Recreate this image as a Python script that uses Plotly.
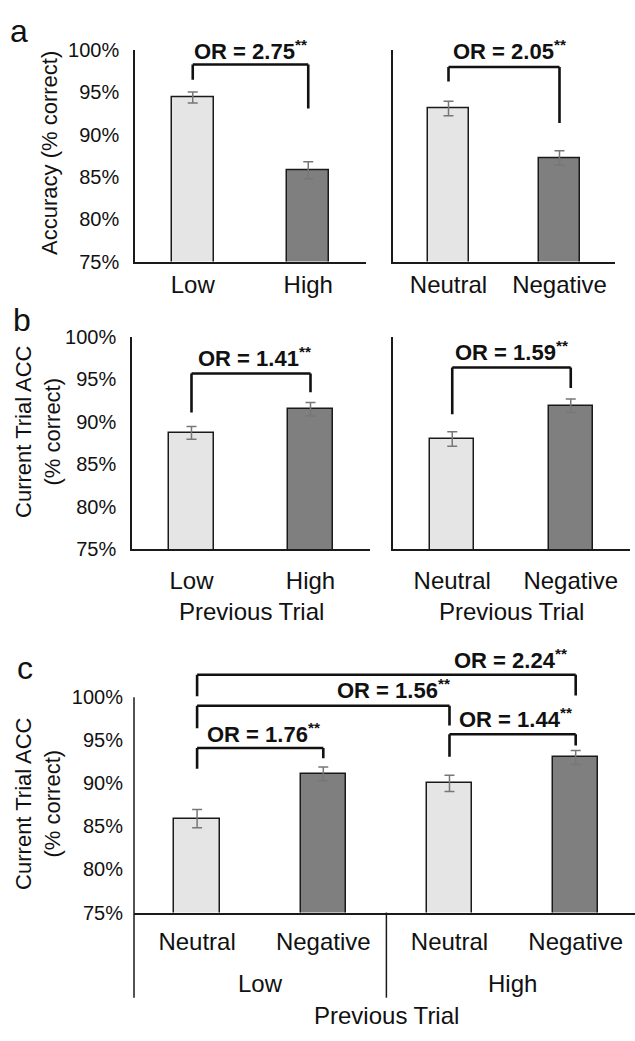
import plotly.graph_objects as go

# ---------------- data ----------------
load_cats = ["Low", "High"]
emo_cats = ["Neutral", "Negative"]

acc_load = [94.4, 85.8]
acc_load_err = [0.65, 1.0]
acc_emo = [93.1, 87.25]
acc_emo_err = [0.85, 0.85]

prev_load = [88.7, 91.5]
prev_load_err = [0.75, 0.8]
prev_emo = [88.0, 91.9]
prev_emo_err = [0.85, 0.8]

combo_cats = ["Neutral", "Negative", "Neutral", "Negative"]
combo_groups = ["Low", "High"]
prev_combo = [85.9, 91.1, 90.0, 93.0]
prev_combo_err = [1.05, 0.8, 0.95, 0.8]

ytick_vals = [75, 80, 85, 90, 95, 100]
ytick_text = ["75%", "80%", "85%", "90%", "95%", "100%"]

# odds-ratio labels for brackets
or_a = ["2.75", "2.05"]
or_b = ["1.41", "1.59"]
or_c = ["2.24", "1.56", "1.44", "1.76"]

# ---------------- layout helpers ----------------
W, H = 635, 1041
FONT = "Liberation Sans, Arial, Helvetica, sans-serif"
LIGHT = "#e5e5e5"
DARK = "#7f7f7f"
EDGE = "#1a1a1a"
ERRC = "#777777"


def fx(px):
    return px / W


def fy(py):
    return 1 - py / H


fig = go.Figure()

# panel geometry (pixels): x-domain, y-domain(bottom, top)
panels = [
    dict(x=(135, 366), y=(256, 40), yr=[75, 100], xr=[-0.5, 1.5], lab=True, so=1),
    dict(x=(393, 615), y=(256, 40), yr=[75, 100], xr=[-0.5, 1.5], lab=False, so=1),
    dict(x=(132, 370), y=(550, 333), yr=[75, 100], xr=[-0.5, 1.5], lab=True, so=9),
    dict(x=(393, 630), y=(550, 333), yr=[75, 100], xr=[-0.5, 1.5], lab=False, so=9),
    dict(x=(134, 635), y=(921, 657), yr=[75, 105], xr=[-0.5, 3.47], lab=True, so=7),
]

series = [
    (load_cats, acc_load, acc_load_err, [LIGHT, DARK], 0.365),
    (emo_cats, acc_emo, acc_emo_err, [LIGHT, DARK], 0.37),
    (load_cats, prev_load, prev_load_err, [LIGHT, DARK], 0.37),
    (emo_cats, prev_emo, prev_emo_err, [LIGHT, DARK], 0.37),
    (combo_cats, prev_combo, prev_combo_err, [LIGHT, DARK, LIGHT, DARK], 0.36),
]

layout = {}
for i, (p, s) in enumerate(zip(panels, series)):
    n = i + 1
    cats, vals, errs, cols, bw = s
    xs = list(range(len(cats)))
    fig.add_trace(go.Bar(
        x=xs, y=vals, width=bw,
        marker=dict(color=cols, line=dict(color=EDGE, width=1.5)),
        error_y=dict(type="data", array=errs, color=ERRC, thickness=1.5, width=5),
        xaxis=f"x{n}", yaxis=f"y{n}", showlegend=False,
    ))
    xk = "xaxis" if n == 1 else f"xaxis{n}"
    yk = "yaxis" if n == 1 else f"yaxis{n}"
    layout[xk] = dict(
        domain=[fx(p["x"][0]), fx(p["x"][1])], anchor=f"y{n}",
        range=p["xr"], tickvals=xs, ticktext=cats,
        showline=True, linecolor=EDGE, linewidth=1.5, ticks="",
        showgrid=False, zeroline=False, fixedrange=True,
        tickfont=dict(size=24, color="#111", family=FONT),
        ticklabelstandoff=p["so"],
    )
    layout[yk] = dict(
        domain=[fy(p["y"][0]), fy(p["y"][1])], anchor=f"x{n}",
        range=p["yr"], tickvals=ytick_vals, ticktext=ytick_text,
        showticklabels=p["lab"], showline=(n != 5), linecolor=EDGE, linewidth=1.5,
        ticks="", showgrid=False, zeroline=False, fixedrange=True,
        tickfont=dict(size=20, color="#111", family=FONT),
        ticklabelstandoff=10,
    )

fig.update_layout(**layout)

shapes = []
annotations = []

# brackets: (panel, i, j, y_bar, y_left_end, y_right_end, label, label_x, label_y)
brackets = [
    (1, 0, 1, 98.3, 96.5, 93.1, or_a[0], 0.5, 100.0),
    (2, 0, 1, 98.0, 96.3, 91.4, or_a[1], 0.55, 100.0),
    (3, 0, 1, 95.7, 91.1, 93.5, or_b[0], 0.53, 97.7),
    (4, 0, 1, 96.4, 90.9, 94.0, or_b[1], 0.5, 98.4),
    (5, 0, 3, 102.6, 100.1, 100.2, or_c[0], 2.48, 104.4),
    (5, 0, 2, 99.0, 96.4, 96.7, or_c[1], 1.56, 100.9),
    (5, 2, 3, 95.7, 93.1, 94.4, or_c[2], 2.52, 97.6),
    (5, 0, 1, 94.1, 91.7, 92.9, or_c[3], 0.53, 95.9),
]
for (n, i, j, yb, yl, yr, lab, lx, ly) in brackets:
    xr_, yr_ = f"x{n}", f"y{n}"
    ln = dict(color="#111", width=2.6)
    shapes.append(dict(type="line", xref=xr_, yref=yr_, x0=i, x1=i, y0=yl, y1=yb, line=ln))
    shapes.append(dict(type="line", xref=xr_, yref=yr_, x0=i, x1=j, y0=yb, y1=yb, line=ln))
    shapes.append(dict(type="line", xref=xr_, yref=yr_, x0=j, x1=j, y0=yr, y1=yb, line=ln))
    annotations.append(dict(
        xref=xr_, yref=yr_, x=lx, y=ly, showarrow=False,
        text=f"<b>OR = {lab}<sup>**</sup></b>",
        font=dict(size=22, color="#111", family=FONT),
        xanchor="center", yanchor="middle",
    ))

# panel c: y axis line (75%..100%) extended below, plus group divider
p5 = panels[4]
ybot_px, ytop_px = p5["y"]
span = ybot_px - ytop_px
frac100 = (100 - 75) / (105 - 75)
ext = -(1008 - ybot_px) / span
shapes.append(dict(type="line", xref="x5 domain", yref="y5 domain", x0=0, x1=0,
                   y0=ext, y1=frac100, line=dict(color=EDGE, width=1.5)))
shapes.append(dict(type="line", xref="x5", yref="y5 domain", x0=1.5, x1=1.5,
                   y0=ext, y1=0, line=dict(color=EDGE, width=1.5)))

# group labels panel c
for k, g in enumerate(combo_groups):
    annotations.append(dict(xref="x5", yref="paper", x=0.5 + 2 * k, y=fy(994),
                            text=g, showarrow=False, yanchor="middle",
                            font=dict(size=24, color="#111", family=FONT)))

# "Previous Trial" labels
for xr_, yp in [("x3", 613), ("x4", 613)]:
    annotations.append(dict(xref=xr_, yref="paper", x=0.5, y=fy(yp), text="Previous Trial",
                            showarrow=False, yanchor="middle",
                            font=dict(size=24, color="#111", family=FONT)))
annotations.append(dict(xref="x5", yref="paper", x=1.5, y=fy(1026), text="Previous Trial",
                        showarrow=False, yanchor="middle",
                        font=dict(size=24, color="#111", family=FONT)))

# y-axis titles
annotations.append(dict(xref="paper", yref="paper", x=fx(50), y=fy(145), textangle=-90,
                        text="Accuracy (% correct)", showarrow=False,
                        xanchor="center", yanchor="middle",
                        font=dict(size=22, color="#111", family=FONT)))
for yp in (430, 810):
    annotations.append(dict(xref="paper", yref="paper", x=fx(38), y=fy(yp), textangle=-90,
                            text="Current Trial ACC<br>(% correct)", showarrow=False,
                            xanchor="center", yanchor="middle",
                            font=dict(size=22, color="#111", family=FONT)))

# panel letters
for letter, (px, py) in zip(["a", "b", "c"], [(19, 20), (22, 316), (25, 671)]):
    annotations.append(dict(xref="paper", yref="paper", x=fx(px), y=fy(py), text=letter,
                            showarrow=False, xanchor="center", yanchor="middle",
                            font=dict(size=32, color="#111", family=FONT)))

fig.update_layout(
    width=W, height=H, margin=dict(l=0, r=0, t=0, b=0),
    paper_bgcolor="white", plot_bgcolor="white",
    shapes=shapes, annotations=annotations, showlegend=False,
    font=dict(family=FONT, color="#111"),
    bargap=0,
)

fig.write_html("out.html", config={"displayModeBar": False},
               post_script="document.body.style.margin='0';")
